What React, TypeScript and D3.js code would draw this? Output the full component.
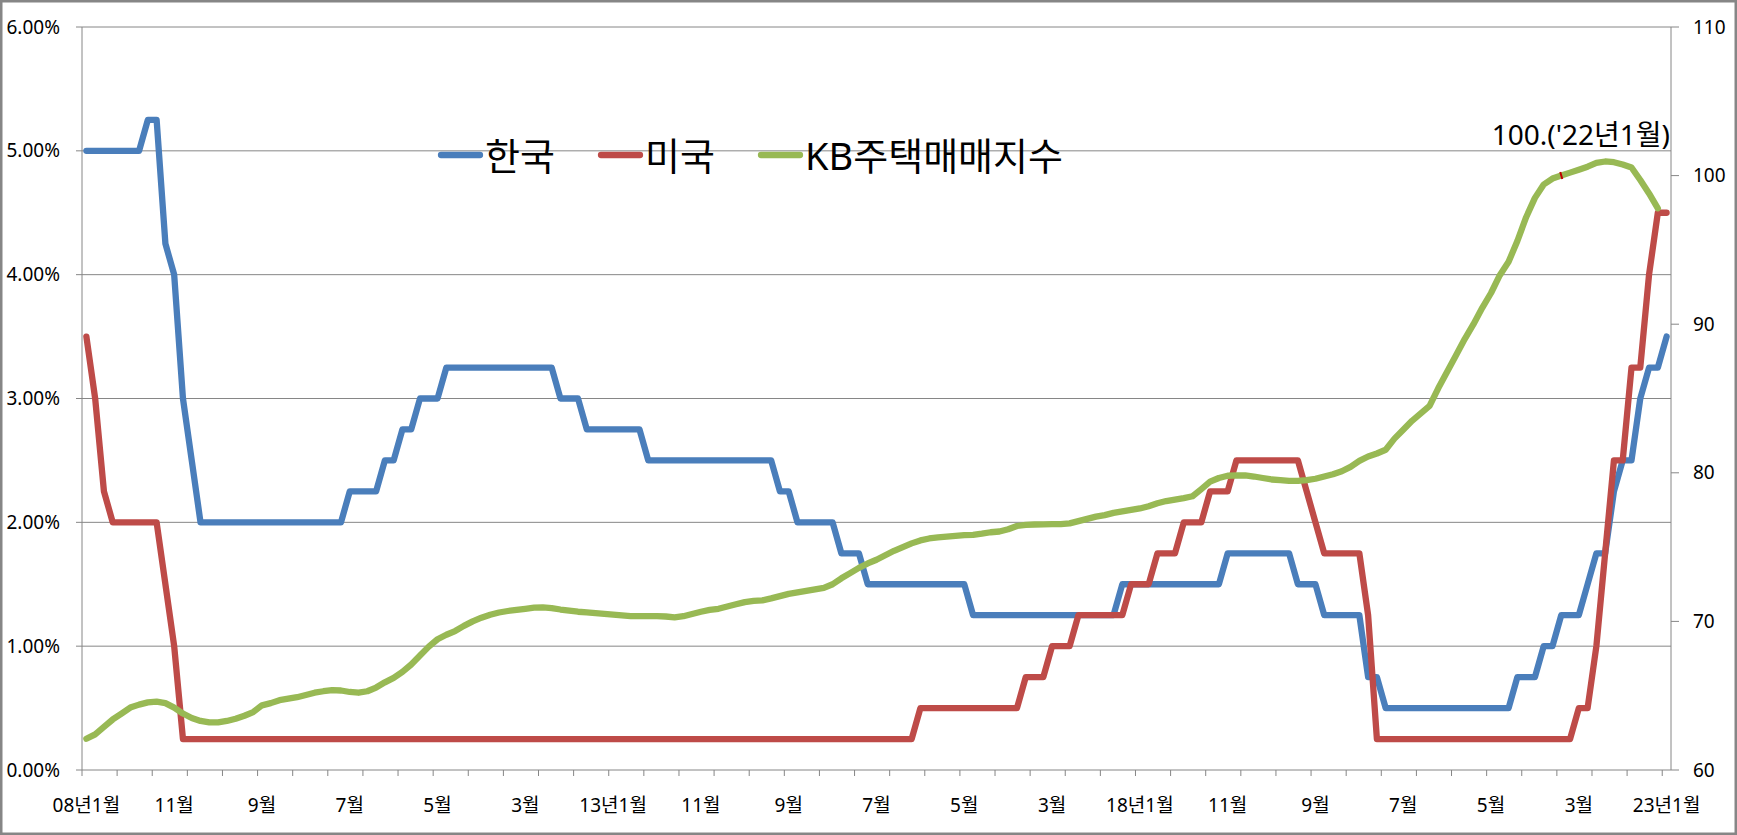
import React from "react"
import { format, line, scaleLinear } from "d3"

// x tick labels, one every 10 months from 2008-01 to 2023-01
const xLabels = [
  "08년1월", "11월", "9월", "7월", "5월", "3월",
  "13년1월", "11월", "9월", "7월", "5월", "3월",
  "18년1월", "11월", "9월", "7월", "5월", "3월",
  "23년1월",
]

// 한국 기준금리 (%), monthly 2008-01 .. 2023-01
const korea = [
  5, 5, 5, 5, 5, 5, 5, 5.25, 5.25, 4.25, 4, 3,
  2.5, 2, 2, 2, 2, 2, 2, 2, 2, 2, 2, 2,
  2, 2, 2, 2, 2, 2, 2.25, 2.25, 2.25, 2.25, 2.5, 2.5,
  2.75, 2.75, 3, 3, 3, 3.25, 3.25, 3.25, 3.25, 3.25, 3.25, 3.25,
  3.25, 3.25, 3.25, 3.25, 3.25, 3.25, 3, 3, 3, 2.75, 2.75, 2.75,
  2.75, 2.75, 2.75, 2.75, 2.5, 2.5, 2.5, 2.5, 2.5, 2.5, 2.5, 2.5,
  2.5, 2.5, 2.5, 2.5, 2.5, 2.5, 2.5, 2.25, 2.25, 2, 2, 2,
  2, 2, 1.75, 1.75, 1.75, 1.5, 1.5, 1.5, 1.5, 1.5, 1.5, 1.5,
  1.5, 1.5, 1.5, 1.5, 1.5, 1.25, 1.25, 1.25, 1.25, 1.25, 1.25, 1.25,
  1.25, 1.25, 1.25, 1.25, 1.25, 1.25, 1.25, 1.25, 1.25, 1.25, 1.5, 1.5,
  1.5, 1.5, 1.5, 1.5, 1.5, 1.5, 1.5, 1.5, 1.5, 1.5, 1.75, 1.75,
  1.75, 1.75, 1.75, 1.75, 1.75, 1.75, 1.5, 1.5, 1.5, 1.25, 1.25, 1.25,
  1.25, 1.25, 0.75, 0.75, 0.5, 0.5, 0.5, 0.5, 0.5, 0.5, 0.5, 0.5,
  0.5, 0.5, 0.5, 0.5, 0.5, 0.5, 0.5, 0.75, 0.75, 0.75, 1, 1,
  1.25, 1.25, 1.25, 1.5, 1.75, 1.75, 2.25, 2.5, 2.5, 3, 3.25, 3.25,
  3.5,
]

// 미국 기준금리 (%)
const usa = [
  3.5, 3, 2.25, 2, 2, 2, 2, 2, 2, 1.5, 1, 0.25,
  0.25, 0.25, 0.25, 0.25, 0.25, 0.25, 0.25, 0.25, 0.25, 0.25, 0.25, 0.25,
  0.25, 0.25, 0.25, 0.25, 0.25, 0.25, 0.25, 0.25, 0.25, 0.25, 0.25, 0.25,
  0.25, 0.25, 0.25, 0.25, 0.25, 0.25, 0.25, 0.25, 0.25, 0.25, 0.25, 0.25,
  0.25, 0.25, 0.25, 0.25, 0.25, 0.25, 0.25, 0.25, 0.25, 0.25, 0.25, 0.25,
  0.25, 0.25, 0.25, 0.25, 0.25, 0.25, 0.25, 0.25, 0.25, 0.25, 0.25, 0.25,
  0.25, 0.25, 0.25, 0.25, 0.25, 0.25, 0.25, 0.25, 0.25, 0.25, 0.25, 0.25,
  0.25, 0.25, 0.25, 0.25, 0.25, 0.25, 0.25, 0.25, 0.25, 0.25, 0.25, 0.5,
  0.5, 0.5, 0.5, 0.5, 0.5, 0.5, 0.5, 0.5, 0.5, 0.5, 0.5, 0.75,
  0.75, 0.75, 1, 1, 1, 1.25, 1.25, 1.25, 1.25, 1.25, 1.25, 1.5,
  1.5, 1.5, 1.75, 1.75, 1.75, 2, 2, 2, 2.25, 2.25, 2.25, 2.5,
  2.5, 2.5, 2.5, 2.5, 2.5, 2.5, 2.5, 2.25, 2, 1.75, 1.75, 1.75,
  1.75, 1.75, 1.25, 0.25, 0.25, 0.25, 0.25, 0.25, 0.25, 0.25, 0.25, 0.25,
  0.25, 0.25, 0.25, 0.25, 0.25, 0.25, 0.25, 0.25, 0.25, 0.25, 0.25, 0.25,
  0.25, 0.25, 0.5, 0.5, 1, 1.75, 2.5, 2.5, 3.25, 3.25, 4, 4.5,
  4.5,
]

// KB주택매매지수 ('22년1월 = 100), 2008-01 .. 2022-12
const kb = [
  62.1, 62.4, 62.9, 63.4, 63.8, 64.2, 64.4, 64.55, 64.6, 64.5, 64.2, 63.8,
  63.5, 63.3, 63.2, 63.2, 63.3, 63.45, 63.65, 63.9, 64.35, 64.5, 64.7, 64.8,
  64.9, 65.05, 65.2, 65.3, 65.38, 65.35, 65.25, 65.2, 65.3, 65.55, 65.9, 66.2,
  66.6, 67.1, 67.7, 68.3, 68.8, 69.1, 69.35, 69.7, 70.0, 70.25, 70.45, 70.6,
  70.7, 70.78, 70.85, 70.92, 70.95, 70.9, 70.8, 70.72, 70.65, 70.6, 70.55, 70.5,
  70.45, 70.4, 70.36, 70.36, 70.36, 70.36, 70.33, 70.27, 70.35, 70.5, 70.65, 70.77,
  70.85, 71.0, 71.15, 71.3, 71.38, 71.42, 71.55, 71.7, 71.85, 71.95, 72.05, 72.15,
  72.25, 72.5, 72.9, 73.25, 73.6, 73.9, 74.15, 74.45, 74.75, 75.0, 75.25, 75.45,
  75.58, 75.65, 75.7, 75.75, 75.8, 75.82, 75.9, 76.0, 76.05, 76.2, 76.42, 76.5,
  76.52, 76.53, 76.55, 76.55, 76.6, 76.75, 76.9, 77.05, 77.15, 77.3, 77.4, 77.5,
  77.6, 77.75, 77.95, 78.1, 78.2, 78.3, 78.42, 78.9, 79.4, 79.65, 79.8, 79.82,
  79.82, 79.75, 79.65, 79.55, 79.5, 79.45, 79.45, 79.5, 79.6, 79.75, 79.9, 80.1,
  80.4, 80.8, 81.1, 81.3, 81.55, 82.3, 82.9, 83.5, 84.0, 84.5, 85.7, 86.8,
  87.9, 89.0, 90.0, 91.1, 92.1, 93.3, 94.2, 95.6, 97.2, 98.5, 99.4, 99.8,
  100.0, 100.2, 100.4, 100.6, 100.85, 100.95, 100.9, 100.75, 100.55, 99.7, 98.8, 97.8,
]

const leftTicks = [0, 0.01, 0.02, 0.03, 0.04, 0.05, 0.06]
const rightTicks = [60, 70, 80, 90, 100, 110]
const seriesNames = ["한국", "미국", "KB주택매매지수"]
const seriesColors = ["#4A7EBB", "#BE4B48", "#98B954"]
const baseIndex = 168 // '22년1월
const baseNote = "100.('22년1월)"

const App = () => {
  // dimensions
  const width = 1737
  const height = 835
  const plot = { left: 82, right: 1671, top: 27, bottom: 770 }
  const months = korea.length
  const font = "'Noto Sans', 'Noto Sans CJK KR', sans-serif"
  const axisColor = "#868686"

  // scales
  const x = scaleLinear().domain([0, months]).range([plot.left, plot.right])
  const xc = (i: number) => x(i + 0.5)
  const yL = scaleLinear().domain([0, 0.06]).range([plot.bottom, plot.top])
  const yR = scaleLinear().domain([60, 110]).range([plot.bottom, plot.top])

  const rateLine = line<number>()
    .x((_, i) => xc(i))
    .y((d) => yL(d / 100))
  const kbLine = line<number>()
    .x((_, i) => xc(i))
    .y((d) => yR(d))

  const paths = [rateLine(korea), rateLine(usa), kbLine(kb)]
  const pct = format(".2%")

  const xTicks: number[] = []
  for (let k = 0; k <= months; k += 4) xTicks.push(k)

  // legend layout
  const legendX = [441, 601, 761]
  const legendY = 155

  return (
    <div>
      <style>{"body{margin:0}"}</style>
      <svg width={width} height={height} style={{ display: "block", fontFamily: font }}>
        <rect x={0} y={0} width={width} height={height} fill="#fff" />

        {/* gridlines */}
        {leftTicks.slice(1).map((t) => (
          <line key={t} x1={plot.left} x2={plot.right} y1={yL(t)} y2={yL(t)} stroke={axisColor} strokeWidth={1} />
        ))}

        {/* axes */}
        <line x1={plot.left} x2={plot.left} y1={plot.top} y2={plot.bottom} stroke={axisColor} />
        <line x1={plot.right} x2={plot.right} y1={plot.top} y2={plot.bottom} stroke={axisColor} />
        <line x1={plot.left} x2={plot.right} y1={plot.bottom} y2={plot.bottom} stroke={axisColor} />

        {/* left axis */}
        {leftTicks.map((t) => (
          <g key={t}>
            <line x1={plot.left - 6} x2={plot.left} y1={yL(t)} y2={yL(t)} stroke={axisColor} />
            <text x={60} y={yL(t)} dy="0.35em" textAnchor="end" fontSize={19}>
              {pct(t)}
            </text>
          </g>
        ))}

        {/* right axis */}
        {rightTicks.map((t) => (
          <g key={t}>
            <line x1={plot.right} x2={plot.right + 8} y1={yR(t)} y2={yR(t)} stroke={axisColor} />
            <text x={1693} y={yR(t)} dy="0.35em" textAnchor="start" fontSize={19}>
              {t}
            </text>
          </g>
        ))}

        {/* x axis */}
        {xTicks.map((k) => (
          <line key={k} x1={x(k)} x2={x(k)} y1={plot.bottom} y2={plot.bottom + 6} stroke={axisColor} />
        ))}
        {xLabels.map((label, j) => (
          <text key={j} x={xc(j * 10)} y={812} textAnchor="middle" fontSize={19}>
            {label}
          </text>
        ))}

        {/* series */}
        {paths.map((d, i) => (
          <path
            key={i}
            d={d ?? ""}
            fill="none"
            stroke={seriesColors[i]}
            strokeWidth={6.3}
            strokeLinejoin="round"
            strokeLinecap="round"
          />
        ))}

        {/* base month mark */}
        <line
          x1={xc(baseIndex) - 1}
          x2={xc(baseIndex) + 1}
          y1={yR(kb[baseIndex]) - 3.5}
          y2={yR(kb[baseIndex]) + 3.5}
          stroke="#C00000"
          strokeWidth={2}
        />
        <text x={plot.right - 1} y={145} textAnchor="end" fontSize={28}>
          {baseNote}
        </text>

        {/* legend */}
        {seriesNames.map((name, i) => (
          <g key={name}>
            <line
              x1={legendX[i]}
              x2={legendX[i] + 39}
              y1={legendY}
              y2={legendY}
              stroke={seriesColors[i]}
              strokeWidth={6.3}
              strokeLinecap="round"
            />
            <text x={legendX[i] + 44} y={legendY + 15} fontSize={38}>
              {name}
            </text>
          </g>
        ))}

        {/* chart border */}
        <rect x={1.25} y={1.25} width={width - 2.5} height={height - 2.5} fill="none" stroke={axisColor} strokeWidth={2.5} />
      </svg>
    </div>
  )
}

export default App
